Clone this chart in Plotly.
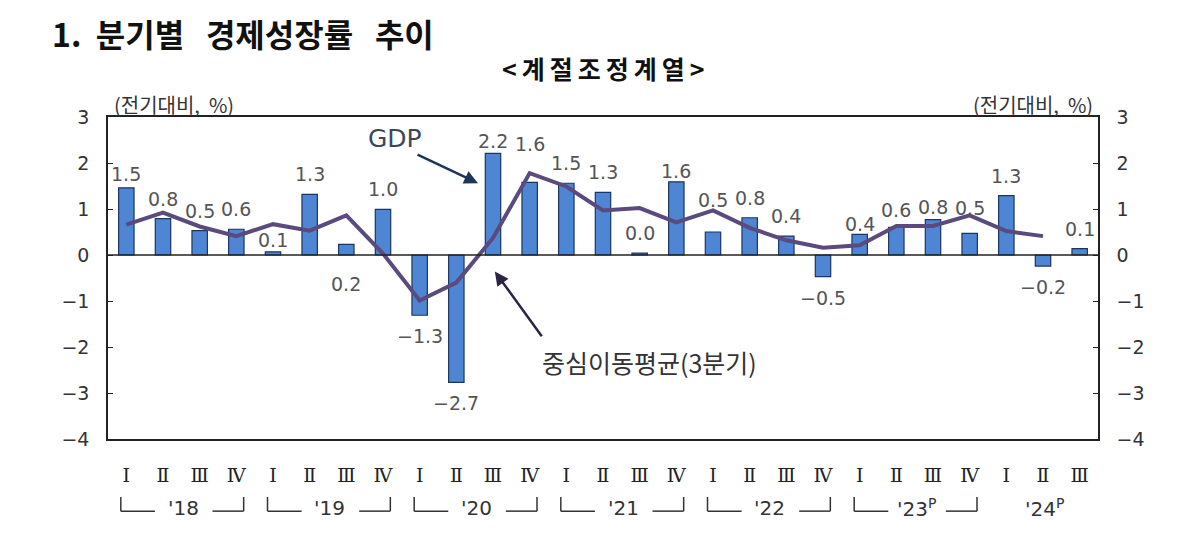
import plotly.graph_objects as go

# 분기별 경제성장률 (계절조정, 전기대비 %)
quarters = ["2018 Q1", "2018 Q2", "2018 Q3", "2018 Q4",
            "2019 Q1", "2019 Q2", "2019 Q3", "2019 Q4",
            "2020 Q1", "2020 Q2", "2020 Q3", "2020 Q4",
            "2021 Q1", "2021 Q2", "2021 Q3", "2021 Q4",
            "2022 Q1", "2022 Q2", "2022 Q3", "2022 Q4",
            "2023 Q1", "2023 Q2", "2023 Q3", "2023 Q4",
            "2024 Q1", "2024 Q2", "2024 Q3"]
quarter_ticks = ["Ⅰ", "Ⅱ", "Ⅲ", "Ⅳ"] * 6 + ["Ⅰ", "Ⅱ", "Ⅲ"]

gdp = [1.46, 0.79, 0.53, 0.56, 0.07, 1.32, 0.23, 0.99, -1.31, -2.77,
       2.21, 1.58, 1.56, 1.36, 0.04, 1.59, 0.50, 0.81, 0.41, -0.47,
       0.45, 0.60, 0.77, 0.47, 1.29, -0.24, 0.14]
gdp_labels = ["1.5", "0.8", "0.5", "0.6", "0.1", "1.3", "0.2", "1.0", "−1.3", "−2.7",
              "2.2", "1.6", "1.5", "1.3", "0.0", "1.6", "0.5", "0.8", "0.4", "−0.5",
              "0.4", "0.6", "0.8", "0.5", "1.3", "−0.2", "0.1"]

# 중심이동평균(3분기), 마지막 분기는 없음
moving_avg = [0.66, 0.92, 0.62, 0.41, 0.67, 0.53, 0.86, 0.03, -0.99, -0.60,
              0.37, 1.78, 1.49, 0.97, 1.02, 0.71, 0.97, 0.59, 0.32, 0.16,
              0.21, 0.63, 0.63, 0.86, 0.52, 0.41, None]

years = ["'18", "'19", "'20", "'21", "'22", "'23<sup>P</sup>", "'24<sup>P</sup>"]

KFONT = "Noto Sans CJK KR"
NFONT = "DejaVu Sans"
TS = "\u2009"  # thin space, used to spread the subtitle letters
NB = "\u00a0"

fig = go.Figure()
fig.add_trace(go.Bar(
    x=quarters, y=gdp, width=0.42,
    marker=dict(color="#4f86d4", line=dict(color="#1c3560", width=1.2)),
    showlegend=False, hoverinfo="skip",
))
fig.add_trace(go.Scatter(
    x=quarters, y=moving_avg, mode="lines", yaxis="y2",
    line=dict(color="#5a4a7e", width=4), showlegend=False, hoverinfo="skip",
))

# value labels: default ~20px off the bar end, a few nudged as in the original
label_shift = {0: 14, 4: 12, 6: -40, 10: 12, 11: 38, 15: 11, 16: 32,
               20: 10, 21: 17, 22: 13, 23: 25}
annotations = []
for i, (v, t) in enumerate(zip(gdp, gdp_labels)):
    shift = label_shift.get(i, 20 if v >= 0 else -21)
    annotations.append(dict(
        x=i, y=v, xref="x", yref="y", text=t, showarrow=False,
        yshift=shift, yanchor="middle",
        font=dict(family=NFONT, size=19, color="#555555"),
    ))

# GDP / 이동평균 callouts
annotations += [
    dict(x=7.33, y=2.54, xref="x", yref="y", text="GDP", showarrow=False,
         font=dict(family=NFONT, size=25, color="#3c4858")),
    dict(x=9.59, y=1.56, ax=7.90, ay=2.20, xref="x", yref="y", axref="x", ayref="y",
         text="", showarrow=True, arrowhead=2, arrowsize=1.1, arrowwidth=2.5,
         arrowcolor="#1d3557"),
    dict(x=14.28, y=-2.33, xref="x", yref="y", text="중심이동평균(3분기)", showarrow=False,
         font=dict(family=KFONT, size=25, color="#333333")),
    dict(x=10.05, y=-0.36, ax=11.36, ay=-1.80, xref="x", yref="y", axref="x", ayref="y",
         text="", showarrow=True, arrowhead=2, arrowsize=1.1, arrowwidth=2.5,
         arrowcolor="#2d2444"),
]

# titles and units
annotations += [
    dict(x=-0.0586, y=1.261, xref="paper", yref="paper", xanchor="left", yanchor="middle",
         text="1." + NB * 2 + "분기별" + NB * 3 + "경제성장률" + NB * 3 + "추이", showarrow=False,
         font=dict(family=KFONT, size=32, color="#111111", weight="bold")),
    dict(x=0.5, y=1.152, xref="paper", yref="paper", xanchor="center", yanchor="middle",
         text=TS.join(["&lt;", "계", "절", "조", "정", "계", "열", "&gt;"]), showarrow=False,
         font=dict(family=KFONT, size=25, color="#111111", weight="bold")),
    dict(x=0.004, y=1.04, xref="paper", yref="paper", xanchor="left", yanchor="middle",
         text="(전기대비," + NB * 2 + "%)", showarrow=False,
         font=dict(family=KFONT, size=20, color="#333333")),
    dict(x=0.997, y=1.04, xref="paper", yref="paper", xanchor="right", yanchor="middle",
         text="(전기대비," + NB * 2 + "%)", showarrow=False,
         font=dict(family=KFONT, size=20, color="#333333")),
]

# year labels with brackets underneath the quarter ticks
shapes = []
y_top, y_bot, y_year = -0.180, -0.224, -0.214
line_style = dict(color="#333333", width=1.5)
for k, yr in enumerate(years):
    s = 4 * k
    n = min(4, len(quarters) - s)
    annotations.append(dict(
        x=s + (n - 1) / 2 + 0.05, y=y_year, xref="x", yref="paper", text=yr,
        showarrow=False, yanchor="middle",
        font=dict(family=NFONT, size=20, color="#333333"),
    ))
    if n == 4:
        for x0, x1, ya, yb in [(s - 0.15, s - 0.15, y_top, y_bot),
                               (s - 0.15, s + 0.78, y_bot, y_bot),
                               (s + 2.35, s + 3.2, y_bot, y_bot),
                               (s + 3.2, s + 3.2, y_bot, y_top)]:
            shapes.append(dict(type="line", xref="x", yref="paper",
                               x0=x0, x1=x1, y0=ya, y1=yb, line=line_style))

yaxis_common = dict(
    range=[-4, 3], dtick=1, tick0=0, ticks="inside", ticklen=5, tickcolor="#222222",
    showgrid=False, zeroline=False, showline=True, linecolor="#222222", linewidth=1.5,
    tickfont=dict(family=NFONT, size=19, color="#333333"),
    ticklabelstandoff=13,
)

# the page body has an 8px margin, so the figure is 8px smaller each way
fig.update_layout(
    width=1187, height=535,
    margin=dict(l=100, r=97, t=109, b=104),
    plot_bgcolor="white", paper_bgcolor="white",
    xaxis=dict(
        tickmode="array", tickvals=quarters, ticktext=quarter_ticks,
        range=[-0.5, len(quarters) - 0.5], showgrid=False, ticks="",
        showline=True, mirror=True, linecolor="#222222", linewidth=1.5,
        tickfont=dict(family="DejaVu Serif, " + KFONT, size=19, color="#222222"),
        ticklabelstandoff=18,
    ),
    yaxis=dict(**yaxis_common),
    yaxis2=dict(**yaxis_common, overlaying="y", side="right"),
    shapes=shapes + [dict(type="line", xref="paper", yref="y", x0=0, x1=1, y0=0, y1=0,
                          line=dict(color="#222222", width=1.5))],
    annotations=annotations,
    bargap=0.5,
)

fig.write_html("out.html")
